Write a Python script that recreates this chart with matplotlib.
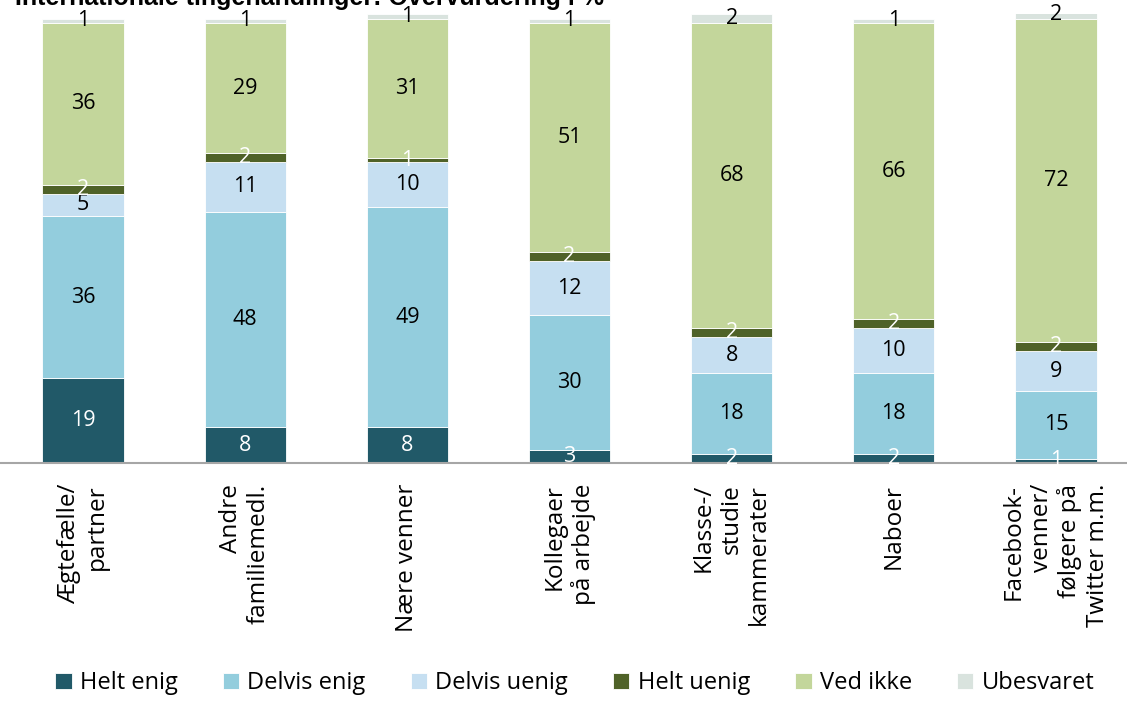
import numpy as np
import matplotlib as mpl
mpl.use("Agg")
import matplotlib.pyplot as plt

plt.rcParams['font.family'] = ['Open Sans', 'DejaVu Sans']

# kategorier og serier (procent)
categories = ['Ægtefælle/\npartner', 'Andre\nfamiliemedl.', 'Nære venner',
              'Kollegaer\npå arbejde', 'Klasse-/\nstudie\nkammerater', 'Naboer',
              'Facebook-\nvenner/\nfølgere på\nTwitter m.m.']
series_names = ['Helt enig', 'Delvis enig', 'Delvis uenig', 'Helt uenig', 'Ved ikke', 'Ubesvaret']
helt_enig = [19, 8, 8, 3, 2, 2, 1]
delvis_enig = [36, 48, 49, 30, 18, 18, 15]
delvis_uenig = [5, 11, 10, 12, 8, 10, 9]
helt_uenig = [2, 2, 1, 2, 2, 2, 2]
ved_ikke = [36, 29, 31, 51, 68, 66, 72]
ubesvaret = [1, 1, 1, 1, 2, 1, 2]

colors = ['#215968', '#93CDDD', '#C6DFF1', '#4F6228', '#C3D69B', '#D9E3DE']
label_colors = ['white', 'black', 'black', 'white', 'black', 'black']


def main():
    data = [helt_enig, delvis_enig, delvis_uenig, helt_uenig, ved_ikke, ubesvaret]
    x = np.arange(len(categories))

    fig = plt.figure(figsize=(11.27, 7.06), dpi=100)
    ax = fig.add_axes([0.0, 0.344, 1.0, 0.636])

    bottom = np.zeros(len(categories))
    for vals, name, col, lcol in zip(data, series_names, colors, label_colors):
        vals = np.array(vals, dtype=float)
        ax.bar(x, vals, bottom=bottom, width=0.5, color=col, label=name,
               edgecolor='white', linewidth=0.6)
        for xi, b, v in zip(x, bottom, vals):
            ax.text(xi, b + v / 2, '%d' % v, ha='center', va='center',
                    fontsize=15.5, color=lcol)
        bottom += vals

    ax.set_xlim(-0.512, 6.438)
    ax.set_ylim(0, 100)
    ax.set_yticks([])
    ax.set_xticks(x)
    ax.set_xticklabels(categories, rotation=90, fontsize=17.5, va='top',
                       ha='center', multialignment='right')
    ax.tick_params(axis='x', length=0, pad=15)
    for s in ['top', 'right', 'left']:
        ax.spines[s].set_visible(False)
    ax.spines['bottom'].set_color('#A6A6A6')
    ax.spines['bottom'].set_linewidth(1.5)

    fig.legend(loc='lower center', bbox_to_anchor=(0.51, -0.015), ncol=6,
               frameon=False, fontsize=17, handlelength=0.7, handleheight=0.7,
               handletextpad=0.35, columnspacing=1.9)

    # titel, delvis skåret af i toppen
    fig.text(0.013, 1 - 4.5 / 706., 'Internationale tingehandlinger: Overvurdering i %',
             fontsize=18, fontweight='bold', family='Liberation Sans',
             ha='left', va='baseline')

    fig.savefig('out.png', dpi=100)
    plt.close()


if __name__ == '__main__':
    main()
